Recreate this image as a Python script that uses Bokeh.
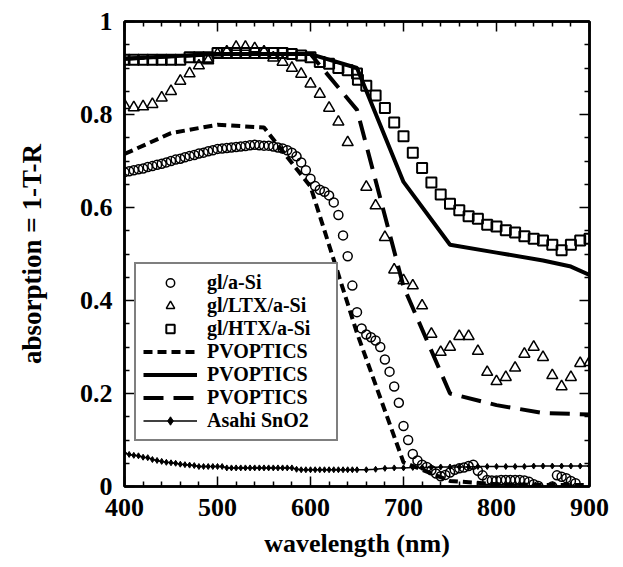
from bokeh.plotting import figure
from bokeh.models import (Range1d, LinearAxis, FixedTicker, CustomJSTickFormatter,
                          Legend, LegendItem)
from bokeh.embed import file_html
from bokeh.resources import INLINE

# ---------------- data ----------------
# gl/a-Si (circles)
asi_wl = [400, 405, 410, 415, 420, 425, 430, 435, 440, 445, 450, 455, 460, 465, 470, 475,
          480, 485, 490, 495, 500, 505, 510, 515, 520, 525, 530, 535, 540, 545, 550, 555,
          560, 565, 570, 575, 580, 585, 590, 595, 600, 605, 610, 615, 620, 625, 630, 635,
          640, 645, 650, 655, 660, 665, 670, 675, 680, 685, 690, 695, 700, 705, 710, 715,
          720, 725, 730, 735, 740, 745, 750, 755, 760, 765, 770, 775, 780, 785, 790, 795,
          800, 805, 810, 815, 820, 825, 830, 835, 840, 845, 860, 865, 870, 875, 880, 885]
asi_abs = [0.676, 0.678, 0.680, 0.682, 0.684, 0.687, 0.689, 0.692, 0.694, 0.697, 0.700, 0.703,
           0.705, 0.708, 0.711, 0.713, 0.716, 0.718, 0.721, 0.723, 0.726, 0.727, 0.728, 0.729,
           0.730, 0.731, 0.732, 0.734, 0.735, 0.734, 0.733, 0.733, 0.731, 0.729, 0.727, 0.723,
           0.718, 0.710, 0.697, 0.680, 0.662, 0.646, 0.638, 0.634, 0.626, 0.611, 0.584, 0.540,
           0.495, 0.432, 0.375, 0.340, 0.327, 0.321, 0.314, 0.300, 0.273, 0.247, 0.215, 0.180,
           0.130, 0.100, 0.070, 0.056, 0.047, 0.042, 0.035, 0.028, 0.022, 0.025, 0.030, 0.036,
           0.039, 0.041, 0.044, 0.047, 0.034, 0.024, 0.014, 0.013, 0.013, 0.014, 0.014, 0.014,
           0.014, 0.014, 0.013, 0.010, 0.005, 0.001, 0.000, 0.024, 0.021, 0.018, 0.012, 0.007]

# gl/LTX/a-Si (triangles)
ltx_wl = [400, 410, 420, 430, 440, 450, 460, 470, 480, 490, 500, 510, 520, 530, 540, 550,
          560, 570, 580, 590, 600, 610, 620, 630, 640, 660, 670, 680, 690, 700, 710, 720,
          730, 740, 750, 760, 770, 780, 790, 800, 810, 820, 830, 840, 850, 860, 870, 880,
          890, 900]
ltx_abs = [0.820, 0.815, 0.817, 0.822, 0.836, 0.850, 0.872, 0.888, 0.905, 0.916, 0.930, 0.935,
           0.945, 0.945, 0.942, 0.935, 0.922, 0.913, 0.900, 0.887, 0.866, 0.844, 0.814, 0.784,
           0.740, 0.644, 0.604, 0.536, 0.466, 0.443, 0.432, 0.389, 0.328, 0.289, 0.300, 0.323,
           0.323, 0.291, 0.246, 0.226, 0.235, 0.255, 0.285, 0.300, 0.278, 0.239, 0.215, 0.235,
           0.265, 0.267]

# gl/HTX/a-Si (squares)
htx_wl = [400, 410, 420, 430, 440, 450, 460, 470, 480, 490, 500, 510, 520, 530, 540, 550,
          560, 570, 580, 590, 600, 610, 620, 630, 640, 650, 651, 660, 670, 680, 690, 700,
          710, 720, 730, 740, 750, 760, 770, 780, 790, 800, 810, 820, 830, 840, 850, 860,
          870, 880, 890, 900]
htx_abs = [0.918, 0.918, 0.918, 0.918, 0.918, 0.918, 0.918, 0.923, 0.923, 0.923, 0.932, 0.932,
           0.932, 0.932, 0.932, 0.932, 0.932, 0.932, 0.930, 0.927, 0.923, 0.913, 0.909, 0.900,
           0.895, 0.888, 0.875, 0.862, 0.841, 0.814, 0.783, 0.753, 0.718, 0.685, 0.654, 0.628,
           0.608, 0.594, 0.581, 0.576, 0.563, 0.559, 0.551, 0.546, 0.538, 0.533, 0.529, 0.520,
           0.508, 0.520, 0.529, 0.533]

# PVOPTICS simulations
pv_wl = [400, 450, 500, 550, 600, 650, 700, 750, 800, 850, 900]
pv_asi = [0.715, 0.760, 0.778, 0.772, 0.645, 0.330, 0.052, 0.012, 0.005, 0.003, 0.003]
pv_ltx = [0.920, 0.925, 0.930, 0.930, 0.930, 0.810, 0.430, 0.200, 0.175, 0.158, 0.155]
pv_htx_wl = [400, 450, 500, 550, 600, 650, 700, 750, 800, 850, 880, 900]
pv_htx = [0.920, 0.925, 0.930, 0.930, 0.930, 0.900, 0.655, 0.520, 0.503, 0.486, 0.473, 0.455]

# Asahi SnO2
sno_wl = [400, 405, 410, 415, 420, 425, 430, 435, 440, 445, 450, 455, 460, 465, 470, 475,
          480, 485, 490, 495, 500, 505, 510, 515, 520, 525, 530, 535, 540, 545, 550, 555,
          560, 565, 570, 575, 580, 585, 590, 595, 600, 605, 610, 615, 620, 625, 630, 635,
          640, 645, 650, 660, 670, 680, 690, 700, 710, 720, 730, 740, 750, 760, 770, 780,
          790, 800, 810, 820, 830, 840, 850, 860, 870, 880, 890, 900]
sno_abs = [0.072, 0.069, 0.067, 0.066, 0.063, 0.062, 0.058, 0.056, 0.054, 0.052, 0.051, 0.050,
           0.048, 0.047, 0.046, 0.045, 0.043, 0.043, 0.043, 0.043, 0.043, 0.043, 0.040, 0.040,
           0.040, 0.040, 0.040, 0.040, 0.040, 0.040, 0.040, 0.040, 0.040, 0.040, 0.040, 0.040,
           0.040, 0.037, 0.036, 0.036, 0.036, 0.036, 0.036, 0.036, 0.036, 0.036, 0.036, 0.036,
           0.036, 0.036, 0.036, 0.036, 0.037, 0.039, 0.040, 0.040, 0.041, 0.041, 0.041, 0.042,
           0.042, 0.042, 0.042, 0.043, 0.043, 0.043, 0.043, 0.043, 0.043, 0.044, 0.044, 0.044,
           0.044, 0.044, 0.044, 0.044]

x_major = [400, 500, 600, 700, 800, 900]
x_minor = [420, 440, 460, 480, 520, 540, 560, 580, 620, 640, 660, 680, 720, 740, 760, 780,
           820, 840, 860, 880]
y_major = [0, 0.2, 0.4, 0.6, 0.8, 1.0]
y_minor = [0.05, 0.1, 0.15, 0.25, 0.3, 0.35, 0.45, 0.5, 0.55, 0.65, 0.7, 0.75, 0.85, 0.9, 0.95]

FONT = "Liberation Serif"

p = figure(width=610, height=560, x_range=Range1d(400, 900), y_range=Range1d(0, 1),
           output_backend="svg", toolbar_location=None,
           min_border_left=124, min_border_right=21, min_border_top=21, min_border_bottom=74)
p.grid.visible = False
p.outline_line_color = "black"
p.outline_line_width = 2.5
p.background_fill_color = "white"
p.border_fill_color = "white"

fmt = CustomJSTickFormatter(code="return String(Math.round(tick*10)/10);")
blank = CustomJSTickFormatter(code="return '';")


def style_axis(ax, ticks, minors, show_labels):
    ax.ticker = FixedTicker(ticks=ticks, minor_ticks=minors)
    ax.axis_line_color = "black"
    ax.axis_line_width = 2.5
    ax.major_tick_in = 10
    ax.major_tick_out = 0
    ax.minor_tick_in = 5
    ax.minor_tick_out = 0
    ax.major_tick_line_width = 1.5
    ax.minor_tick_line_width = 1.5
    ax.major_tick_line_color = "black"
    ax.minor_tick_line_color = "black"
    ax.major_label_text_font = FONT
    ax.major_label_text_font_style = "bold"
    ax.major_label_text_color = "black"
    if show_labels:
        ax.formatter = fmt
        ax.major_label_text_font_size = "26px"
        ax.major_label_standoff = 12
        ax.axis_label_text_font = FONT
        ax.axis_label_text_font_style = "bold"
        ax.axis_label_text_font_size = "26px"
        ax.axis_label_text_color = "black"
    else:
        ax.formatter = blank
        ax.major_label_text_font_size = "8px"
        ax.major_label_standoff = 0


xa = p.xaxis[0]
ya = p.yaxis[0]
style_axis(xa, x_major, x_minor, True)
style_axis(ya, y_major, y_minor, True)
xa.axis_label = "wavelength (nm)"
xa.axis_label_standoff = 10
ya.axis_label = "absorption = 1-T-R"
ya.axis_label_standoff = 30
ya.axis_label_text_font_size = "27px"

top = LinearAxis()
style_axis(top, x_major, x_minor, False)
p.add_layout(top, "above")
right = LinearAxis()
style_axis(right, y_major, y_minor, False)
p.add_layout(right, "right")

# simulation lines
r_pv_asi = p.line(pv_wl, pv_asi, line_color="black", line_width=4, line_dash="9 5")
r_pv_htx = p.line(pv_htx_wl, pv_htx, line_color="black", line_width=4)
r_pv_ltx = p.line(pv_wl, pv_ltx, line_color="black", line_width=4, line_dash="20 10")

# substrate
r_sno_l = p.line(sno_wl, sno_abs, line_color="black", line_width=1.5)
r_sno_m = p.scatter(sno_wl, sno_abs, marker="diamond", size=6, fill_color="black",
                    line_color="black")

# measurements
r_asi = p.scatter(asi_wl, asi_abs, marker="circle", size=9, fill_color=None,
                  line_color="black", line_width=1.5)
r_ltx = p.scatter(ltx_wl, ltx_abs, marker="triangle", size=11, fill_color=None,
                  line_color="black", line_width=1.5)
r_htx = p.scatter(htx_wl, htx_abs, marker="square", size=10, fill_color=None,
                  line_color="black", line_width=2)

legend = Legend(items=[
    LegendItem(label="gl/a-Si", renderers=[r_asi]),
    LegendItem(label="gl/LTX/a-Si", renderers=[r_ltx]),
    LegendItem(label="gl/HTX/a-Si", renderers=[r_htx]),
    LegendItem(label="PVOPTICS", renderers=[r_pv_asi]),
    LegendItem(label="PVOPTICS", renderers=[r_pv_htx]),
    LegendItem(label="PVOPTICS", renderers=[r_pv_ltx]),
    LegendItem(label="Asahi SnO2", renderers=[r_sno_l, r_sno_m]),
], location=(10, 45))
legend.margin = 0
legend.padding = 7
legend.spacing = 0
legend.glyph_width = 54
legend.glyph_height = 21
legend.label_height = 21
legend.label_width = 122
legend.label_standoff = 10
legend.label_text_font = FONT
legend.label_text_font_style = "bold"
legend.label_text_font_size = "20px"
legend.label_text_color = "black"
legend.border_line_color = "black"
legend.border_line_width = 2
legend.background_fill_color = "white"
legend.background_fill_alpha = 1
p.add_layout(legend)

open("out.html", "w").write(file_html(p, INLINE))
